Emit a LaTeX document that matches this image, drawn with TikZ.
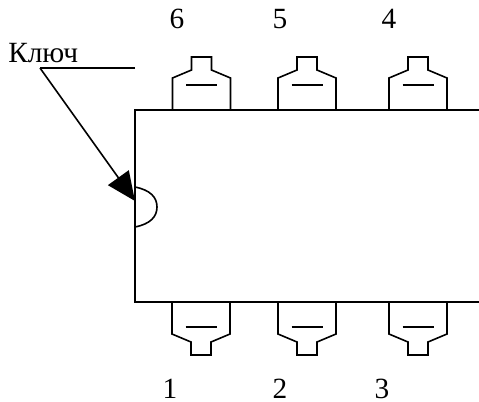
\documentclass[tikz,border=0pt]{standalone}
\usepackage{fontspec}
\setmainfont{Liberation Serif}
\usetikzlibrary{arrows.meta}
\tikzset{
  ln/.style={line width=1.2pt,black,line cap=butt,line join=miter},
  lbl/.style={inner sep=0pt,anchor=base,font=\fontsize{22}{24}\selectfont,text=black},
  pinshape/.pic={
    \draw[ln] (-29,0) -- (-29,-32) -- (-10,-40) -- (-10,-53) -- (10,-53) -- (10,-40) -- (29,-32) -- (29,0);
    \draw[ln] (-15.5,-25) -- (15.5,-25);
  }
}
\begin{document}
\begin{tikzpicture}[x=0.75pt,y=-0.75pt]
\useasboundingbox (0,0) rectangle (479,401);
% body
\coordinate (tr) at (479,110);
\coordinate (tl) at (135,110);
\coordinate (bl) at (135,302);
\coordinate (br) at (479,302);
\draw[ln] (tr) -- (tl) -- (bl) -- (br);
% notch
\coordinate (na) at (135,187);
\coordinate (nb) at (135,227);
\draw[ln] (na) .. controls (150,190) and (157,197) .. (157,207) .. controls (157,217) and (150,224) .. (nb);
% pins
\pic at (201.5,110) {pinshape};
\pic at (307,110) {pinshape};
\pic at (418,110) {pinshape};
\pic[yscale=-1] at (201,302) {pinshape};
\pic[yscale=-1] at (307,302) {pinshape};
\pic[yscale=-1] at (418,302) {pinshape};
% labels
\node[lbl] (n6) at (177,28) {6};
\node[lbl] (n5) at (280,28) {5};
\node[lbl] (n4) at (389,28) {4};
\node[lbl] (n1) at (170,398) {1};
\node[lbl] (n2) at (280,398) {2};
\node[lbl] (n3) at (382,398) {3};
\node[lbl,anchor=base west] (key) at (8,62) {Ключ};
% leader
\coordinate (la) at (40,68);
\coordinate (lb) at (135,68);
\coordinate (tip) at (135,201);
\draw[ln] (lb) -- (la);
\draw[ln,-{Triangle[length=21.5pt,width=19pt]}] (la) -- (tip);
\end{tikzpicture}
\end{document}
